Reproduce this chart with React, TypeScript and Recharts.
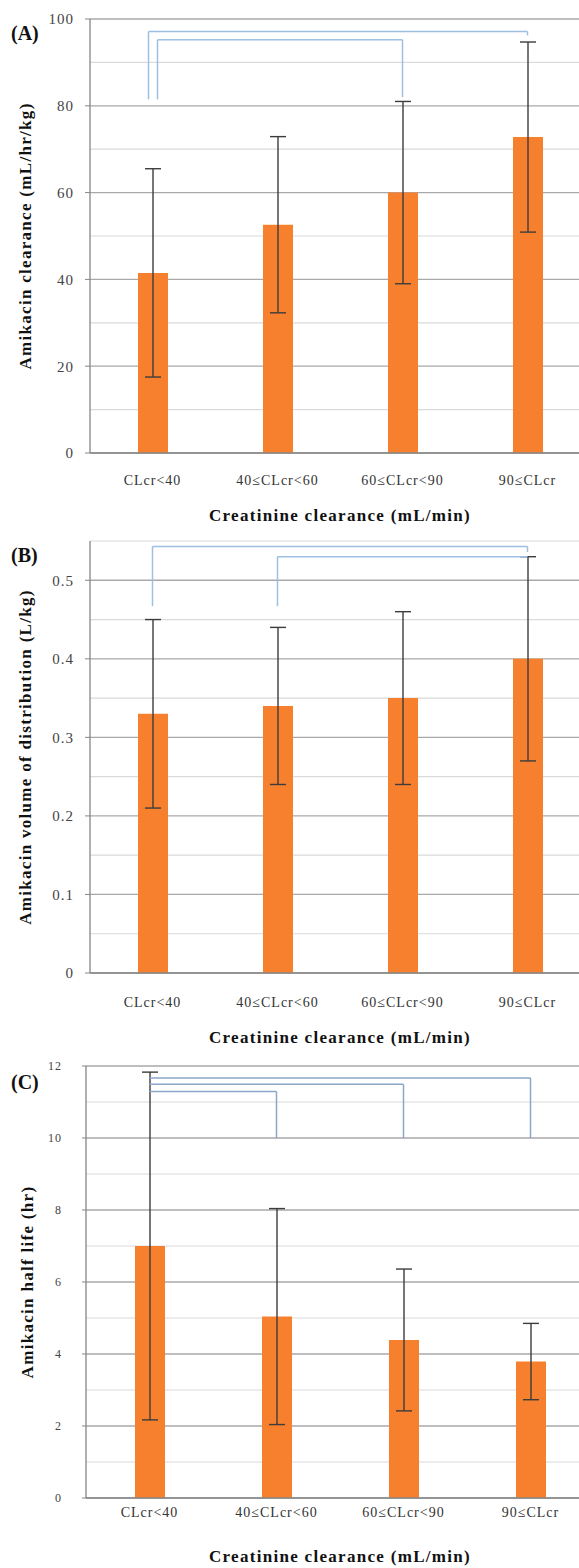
import React from 'react'
import {
  BarChart, Bar, XAxis, YAxis, CartesianGrid, ErrorBar, ReferenceLine,
} from 'recharts'

const groups = ['CLcr<40', '40≤CLcr<60', '60≤CLcr<90', '90≤CLcr']

// (A) clearance, mL/hr/kg
const clearanceMean = [41.5, 52.6, 60.0, 72.8]
const clearanceSd = [24.0, 20.3, 21.0, 21.9]
const clearanceTicks = [0, 20, 40, 60, 80, 100]
const clearanceMinor = [10, 30, 50, 70, 90]

// (B) volume of distribution, L/kg
const volumeMean = [0.33, 0.34, 0.35, 0.40]
const volumeSd = [0.12, 0.10, 0.11, 0.13]
const volumeTicks = [0, 0.1, 0.2, 0.3, 0.4, 0.5]
const volumeMinor = [0.05, 0.15, 0.25, 0.35, 0.45, 0.55]

// (C) half life, hr
const halfLifeMean = [7.0, 5.04, 4.39, 3.79]
const halfLifeSd = [4.83, 3.0, 1.97, 1.06]
const halfLifeTicks = [0, 2, 4, 6, 8, 10, 12]
const halfLifeMinor = [1, 3, 5, 7, 9, 11]

// significance brackets: group indexes, height of the bar and where each leg stops
interface Bracket { from: number; to: number; top: number; leftEnd: number; rightEnd: number }

const clearanceBrackets: Bracket[] = [
  { from: 0, to: 3, top: 97.1, leftEnd: 81.5, rightEnd: 96.2 },
  { from: 0, to: 2, top: 95.2, leftEnd: 81.5, rightEnd: 82.0 },
]
const volumeBrackets: Bracket[] = [
  { from: 0, to: 3, top: 0.543, leftEnd: 0.467, rightEnd: 0.536 },
  { from: 1, to: 3, top: 0.530, leftEnd: 0.467, rightEnd: 0.530 },
]
const halfLifeBrackets: Bracket[] = [
  { from: 0, to: 3, top: 11.67, leftEnd: 11.67, rightEnd: 10 },
  { from: 0, to: 2, top: 11.49, leftEnd: 11.49, rightEnd: 10 },
  { from: 0, to: 1, top: 11.29, leftEnd: 11.29, rightEnd: 10 },
]

const SERIF = '"Liberation Serif", "DejaVu Serif", serif'
const BAR = '#f6802e'
const AXIS = '#868686'
const GRID_MAJOR = '#a9a9a9'
const GRID_MINOR = '#dadada'

// ReferenceLine shape that nudges the ends sideways (legs that sit beside the error bar)
const shifted = (dx1: number, dx2: number) => (p: any) => (
  <line
    x1={p.x1 + dx1} y1={p.y1} x2={p.x2 + dx2} y2={p.y2}
    stroke={p.stroke} strokeWidth={p.strokeWidth} fill="none"
  />
)

interface PanelProps {
  top: number
  height: number
  tag: string
  tagTop: number
  yTitle: string
  means: number[]
  sds: number[]
  ticks: number[]
  minor: number[]
  domain: [number, number]
  brackets: Bracket[]
  legNudge: number[]
  bracketColor: string
  marginTop: number
  marginLeft: number
  marginRight: number
  yWidth: number
  xHeight: number
  xTickMargin: number
  titleOffset: number
  yTickSize: number
  yTickMargin: number
  yTickFont: number
}

function Panel(p: PanelProps) {
  const data = groups.map((g, i) => ({ group: g, mean: p.means[i], sd: p.sds[i] }))

  const lines: React.ReactNode[] = []
  p.brackets.forEach((b, i) => {
    const n = p.legNudge[i] || 0
    const a = groups[b.from]
    const z = groups[b.to]
    if (b.leftEnd !== b.top) {
      lines.push(
        <ReferenceLine key={`l${i}`} ifOverflow="visible" stroke={p.bracketColor} strokeWidth={1.5}
          segment={[{ x: a, y: b.leftEnd }, { x: a, y: b.top }]} shape={shifted(n, n)} />,
      )
    }
    lines.push(
      <ReferenceLine key={`t${i}`} ifOverflow="visible" stroke={p.bracketColor} strokeWidth={1.5}
        segment={[{ x: a, y: b.top }, { x: z, y: b.top }]} shape={shifted(n, 0)} />,
    )
    if (b.rightEnd !== b.top) {
      lines.push(
        <ReferenceLine key={`r${i}`} ifOverflow="visible" stroke={p.bracketColor} strokeWidth={1.5}
          segment={[{ x: z, y: b.top }, { x: z, y: b.rightEnd }]} />,
      )
    }
  })

  return (
    <div style={{ position: 'absolute', left: 0, top: p.top, width: 579, height: p.height, overflow: 'hidden' }}>
      <BarChart
        width={600}
        height={p.height}
        data={data}
        margin={{ top: p.marginTop, right: p.marginRight, left: p.marginLeft, bottom: 0 }}
      >
        <CartesianGrid vertical={false} horizontalValues={p.minor} stroke={GRID_MINOR} strokeWidth={1.2} />
        <CartesianGrid vertical={false} horizontalValues={p.ticks} stroke={GRID_MAJOR} strokeWidth={1.3} />
        <XAxis
          dataKey="group"
          height={p.xHeight}
          interval={0}
          tickSize={0}
          tickMargin={p.xTickMargin}
          tickLine={false}
          axisLine={{ stroke: AXIS, strokeWidth: 1.3 }}
          tick={{ fontSize: 14, fill: '#333', fontFamily: SERIF, letterSpacing: 1 } as any}
          label={{
            value: 'Creatinine clearance (mL/min)',
            position: 'insideBottom',
            offset: p.titleOffset,
            style: { fontSize: 17, fontWeight: 700, fill: '#111', fontFamily: SERIF, letterSpacing: 1.3 },
          }}
        />
        <YAxis
          width={p.yWidth}
          domain={p.domain}
          ticks={p.ticks}
          interval={0}
          allowDataOverflow
          tickSize={p.yTickSize}
          tickMargin={p.yTickMargin}
          axisLine={{ stroke: AXIS, strokeWidth: 1.3 }}
          tickLine={{ stroke: AXIS }}
          tick={{ fontSize: p.yTickFont, fill: '#444', fontFamily: SERIF, letterSpacing: 1 } as any}
          label={{
            value: p.yTitle,
            angle: -90,
            position: 'center',
            style: { fontSize: 17, fontWeight: 700, fill: '#111', fontFamily: SERIF, letterSpacing: 1.3 },
          }}
        />
        <Bar dataKey="mean" fill={BAR} barSize={30} isAnimationActive={false}>
          <ErrorBar dataKey="sd" width={8} stroke="#3c3c3c" strokeWidth={1.4} isAnimationActive={false} />
        </Bar>
        {lines}
      </BarChart>
      <div
        style={{
          position: 'absolute', left: 11, top: p.tagTop, fontFamily: SERIF, fontWeight: 700,
          fontSize: 20, lineHeight: 1, color: '#111',
        }}
      >
        {p.tag}
      </div>
    </div>
  )
}

export default function App() {
  return (
    <div style={{ position: 'absolute', left: 0, top: 0, width: 579, height: 1568, overflow: 'hidden', background: '#fff' }}>
      <Panel
        top={0} height={530} tag="(A)" tagTop={23}
        yTitle="Amikacin clearance (mL/hr/kg)"
        means={clearanceMean} sds={clearanceSd}
        ticks={clearanceTicks} minor={clearanceMinor} domain={[0, 100]}
        brackets={clearanceBrackets} legNudge={[-4, 5]} bracketColor="#9dbfe3"
        marginTop={19} marginLeft={-40} marginRight={10} yWidth={130}
        xHeight={77} xTickMargin={22} titleOffset={9}
        yTickSize={5} yTickMargin={11} yTickFont={15}
      />
      <Panel
        top={530} height={530} tag="(B)" tagTop={15}
        yTitle="Amikacin volume of distribution (L/kg)"
        means={volumeMean} sds={volumeSd}
        ticks={volumeTicks} minor={volumeMinor} domain={[0, 0.55]}
        brackets={volumeBrackets} legNudge={[0, 0]} bracketColor="#9dbfe3"
        marginTop={11} marginLeft={-40} marginRight={10} yWidth={130}
        xHeight={87} xTickMargin={24} titleOffset={17}
        yTickSize={5} yTickMargin={11} yTickFont={15}
      />
      <Panel
        top={1060} height={508} tag="(C)" tagTop={12}
        yTitle="Amikacin half life (hr)"
        means={halfLifeMean} sds={halfLifeSd}
        ticks={halfLifeTicks} minor={halfLifeMinor} domain={[0, 12]}
        brackets={halfLifeBrackets} legNudge={[0, 0, 0]} bracketColor="#8aa6c8"
        marginTop={6} marginLeft={-32} marginRight={6} yWidth={118}
        xHeight={70} xTickMargin={9} titleOffset={6}
        yTickSize={4} yTickMargin={20} yTickFont={12}
      />
    </div>
  )
}
